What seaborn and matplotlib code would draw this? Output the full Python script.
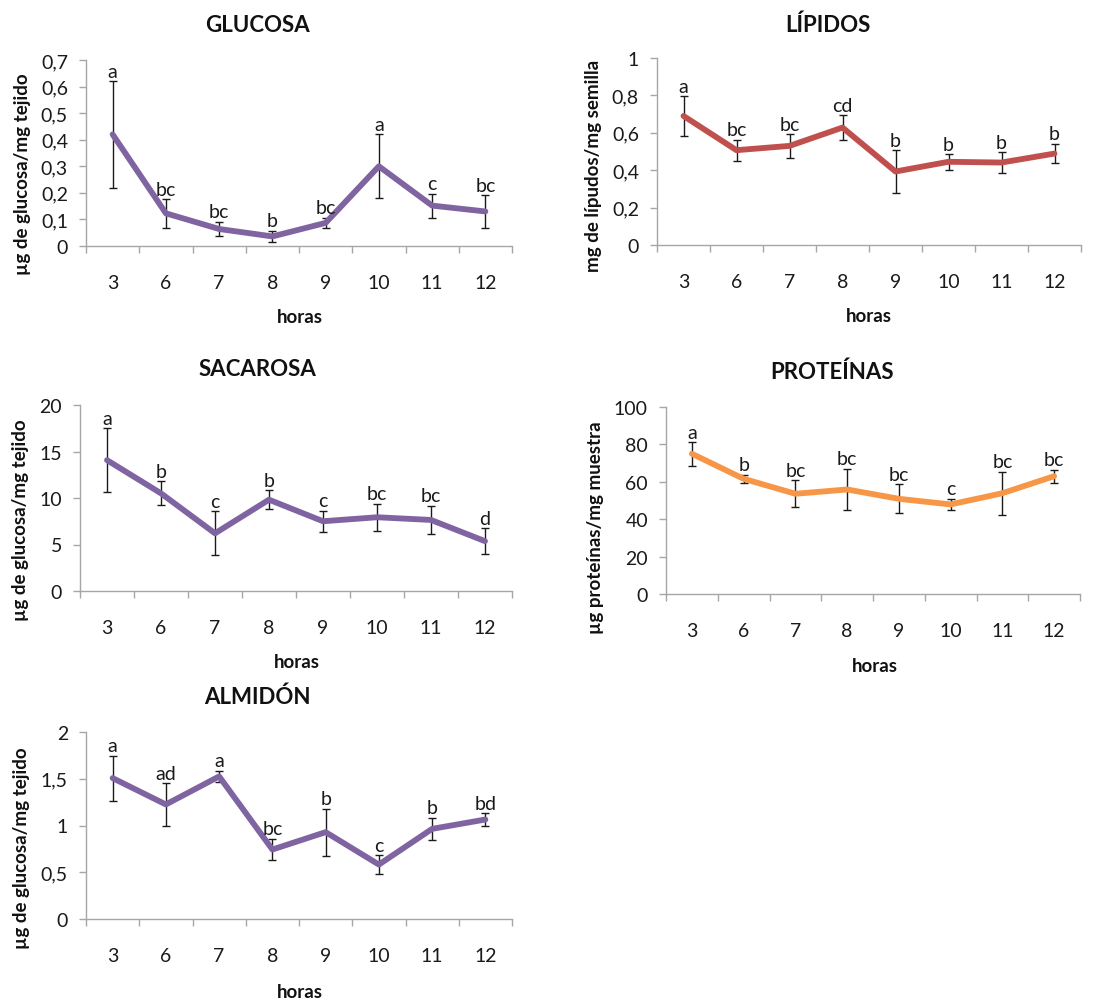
import numpy as np
import pandas as pd
import matplotlib
matplotlib.use("Agg")
import matplotlib.pyplot as plt
from matplotlib.ticker import FuncFormatter, FixedLocator
import seaborn as sns

# ---------------- data ----------------
horas = ["3", "6", "7", "8", "9", "10", "11", "12"]

glucosa = [0.42, 0.123, 0.064, 0.036, 0.087, 0.30, 0.152, 0.13]
glucosa_err = [0.20, 0.054, 0.028, 0.022, 0.020, 0.12, 0.045, 0.062]
glucosa_letras = ["a", "bc", "bc", "b", "bc", "a", "c", "bc"]

lipidos = [0.69, 0.507, 0.53, 0.628, 0.393, 0.445, 0.441, 0.489]
lipidos_err = [0.107, 0.057, 0.064, 0.065, 0.114, 0.042, 0.056, 0.053]
lipidos_letras = ["a", "bc", "bc", "cd", "b", "b", "b", "b"]

sacarosa = [14.07, 10.5, 6.2, 9.82, 7.5, 7.93, 7.64, 5.36]
sacarosa_err = [3.45, 1.3, 2.35, 1.04, 1.12, 1.45, 1.52, 1.41]
sacarosa_letras = ["a", "b", "c", "b", "c", "bc", "bc", "d"]

proteinas = [75.0, 61.6, 53.6, 55.9, 50.9, 47.9, 53.9, 63.0]
proteinas_err = [6.3, 2.1, 7.3, 11.2, 7.8, 3.0, 11.6, 3.4]
proteinas_letras = ["a", "b", "bc", "bc", "bc", "c", "bc", "bc"]

almidon = [1.507, 1.225, 1.525, 0.743, 0.929, 0.582, 0.964, 1.064]
almidon_err = [0.24, 0.23, 0.06, 0.116, 0.25, 0.10, 0.118, 0.068]
almidon_letras = ["a", "ad", "a", "bc", "b", "c", "b", "bd"]

# ---------------- style ----------------
sns.set_style("white")
plt.rcParams["font.family"] = ["Lato", "DejaVu Sans"]

W, H = 1103, 1003
fig = plt.figure(figsize=(W / 100, H / 100), dpi=100)
fig.patch.set_facecolor("white")

PURPLE = "#8064A2"
RED = "#C0504D"
ORANGE = "#F79646"
SPINE = "#A6A6A6"

panels = [
    dict(title="GLUCOSA", vals=glucosa, err=glucosa_err, let=glucosa_letras,
         ylabel="µg de glucosa/mg tejido", color=PURPLE, ymax=0.7, step=0.1,
         box=(86, 512, 61, 247), tpos=(257, 25), ylpos=(23, 174), xlpos=(300, 318)),
    dict(title="LÍPIDOS", vals=lipidos, err=lipidos_err, let=lipidos_letras,
         ylabel="mg de lípudos/mg semilla", color=RED, ymax=1.0, step=0.2,
         box=(657, 1081, 59, 246), tpos=(828, 25), ylpos=(594, 166), xlpos=(869, 317)),
    dict(title="SACAROSA", vals=sacarosa, err=sacarosa_err, let=sacarosa_letras,
         ylabel="µg de glucosa/mg tejido", color=PURPLE, ymax=20, step=5,
         box=(80, 512, 406, 592), tpos=(257, 370), ylpos=(21, 520), xlpos=(297, 663)),
    dict(title="PROTEÍNAS", vals=proteinas, err=proteinas_err, let=proteinas_letras,
         ylabel="µg proteínas/mg muestra", color=ORANGE, ymax=100, step=20,
         box=(666, 1080, 408, 595), tpos=(832, 372), ylpos=(595, 528), xlpos=(875, 667)),
    dict(title="ALMIDÓN", vals=almidon, err=almidon_err, let=almidon_letras,
         ylabel="µg de glucosa/mg tejido", color=PURPLE, ymax=2.0, step=0.5,
         box=(86, 512, 733, 920), tpos=(257, 697), ylpos=(22, 848), xlpos=(300, 993)),
]

fmt = FuncFormatter(lambda v, p: f"{round(v, 6):g}".replace(".", ","))

for p in panels:
    l, r, t, b = p["box"]
    ax = fig.add_axes([l / W, 1 - b / H, (r - l) / W, (b - t) / H])
    df = pd.DataFrame({"pos": np.arange(len(horas)), "hora": horas,
                       "valor": p["vals"], "err": p["err"], "letra": p["let"]})
    ax.errorbar(df["pos"], df["valor"], yerr=df["err"], fmt="none",
                ecolor="#1a1a1a", elinewidth=1.0, capsize=2.8, capthick=1.0, zorder=2)
    sns.lineplot(data=df, x="pos", y="valor", ax=ax, color=p["color"],
                 linewidth=4.2, errorbar=None, zorder=3, solid_capstyle="round")
    for _, row in df.iterrows():
        ax.annotate(row["letra"], (row["pos"], row["valor"] + row["err"]),
                    xytext=(0, 1), textcoords="offset points",
                    ha="center", va="bottom", fontsize=14, color="#1a1a1a")
    ax.set_xlim(-0.5, len(horas) - 0.5)
    ax.set_ylim(0, p["ymax"])
    ax.yaxis.set_major_locator(FixedLocator(np.arange(0, p["ymax"] + p["step"] / 2, p["step"])))
    ax.yaxis.set_major_formatter(fmt)
    ax.xaxis.set_major_locator(FixedLocator(np.arange(-0.5, len(horas), 1.0)))
    ax.xaxis.set_major_formatter(FuncFormatter(lambda v, q: ""))
    ax.set_xticks(np.arange(len(horas)), labels=horas, minor=True)
    ax.tick_params(axis="x", which="major", length=5, width=1, color=SPINE, direction="out", bottom=True)
    ax.tick_params(axis="x", which="minor", length=0, pad=20, labelsize=14, labelcolor="#1a1a1a")
    ax.tick_params(axis="y", which="major", length=5, width=1, color=SPINE, direction="out",
                   left=True, pad=8, labelsize=14, labelcolor="#1a1a1a")
    for s in ["top", "right"]:
        ax.spines[s].set_visible(False)
    for s in ["left", "bottom"]:
        ax.spines[s].set_color(SPINE)
        ax.spines[s].set_linewidth(1.0)
    ax.set_xlabel("")
    ax.set_ylabel("")
    ax.grid(False)
    ax.set_facecolor("none")
    fig.text(p["tpos"][0] / W, 1 - p["tpos"][1] / H, p["title"], ha="center", va="center",
             fontsize=16, fontweight="bold", color="#111111")
    fig.text(p["ylpos"][0] / W, 1 - p["ylpos"][1] / H, p["ylabel"], ha="center", va="center",
             rotation=90, fontsize=13.5, fontweight="bold", color="#111111")
    fig.text(p["xlpos"][0] / W, 1 - p["xlpos"][1] / H, "horas", ha="center", va="center",
             fontsize=13.5, fontweight="bold", color="#111111")

fig.savefig("out.png", dpi=100, facecolor="white")
